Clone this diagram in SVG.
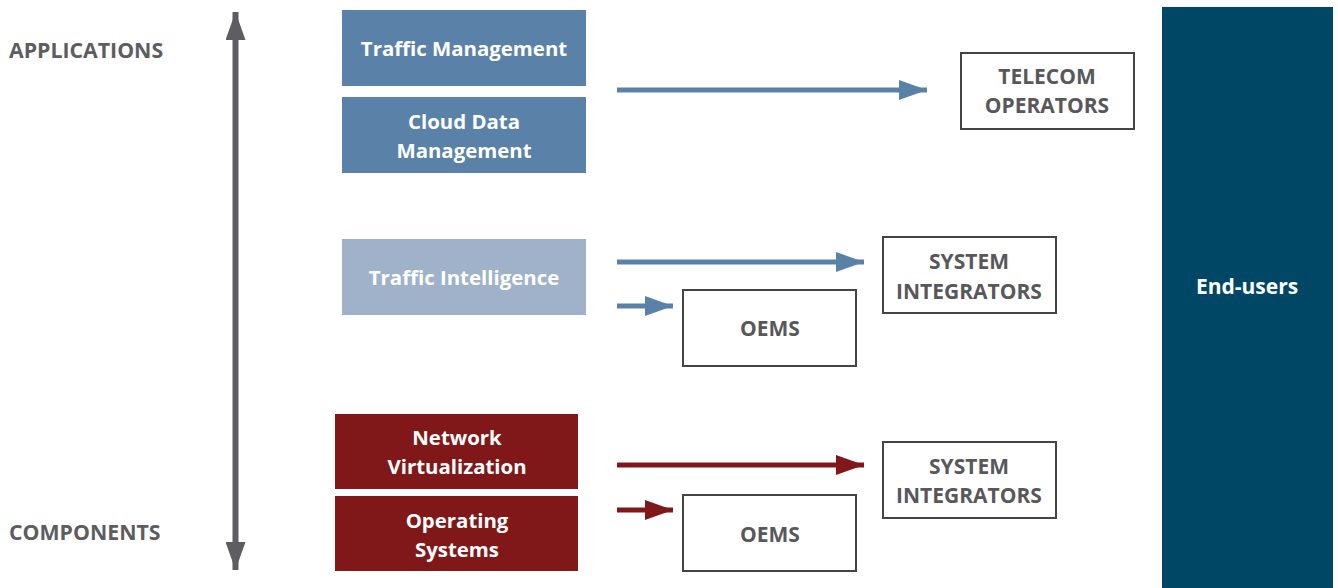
<svg xmlns="http://www.w3.org/2000/svg" width="1338" height="588" viewBox="0 0 1338 588">
<defs>
<style>
.t{font-family:"Open Sans","Liberation Sans",sans-serif;font-weight:700;font-size:20.4px;text-anchor:middle}
.w{fill:#ffffff}
.g{fill:#58585b;font-size:21px}
.side{font-family:"Open Sans","Liberation Sans",sans-serif;font-weight:700;font-size:21.3px;fill:#5d5d60}
.box{fill:#ffffff;stroke:#444446;stroke-width:2}
.bl{stroke:#5a82a8;stroke-width:5;fill:none}
.rd{stroke:#80181a;stroke-width:5;fill:none}
</style>
<marker id="hb" viewBox="0 0 28 20" refX="28" refY="10" markerUnits="userSpaceOnUse" markerWidth="28" markerHeight="20" orient="auto"><path d="M0,0L28,10L0,20Z" fill="#5a82a8"/></marker>
<marker id="hr" viewBox="0 0 28 20" refX="28" refY="10" markerUnits="userSpaceOnUse" markerWidth="28" markerHeight="20" orient="auto"><path d="M0,0L28,10L0,20Z" fill="#80181a"/></marker>
<marker id="hg" viewBox="0 0 28 20" refX="28" refY="10" markerUnits="userSpaceOnUse" markerWidth="28" markerHeight="20" orient="auto"><path d="M0,0L28,10L0,20Z" fill="#5e5e62"/></marker>
</defs>
<rect width="1338" height="588" fill="#ffffff"/>
<g id="labels">
<text class="side" x="9" y="58">APPLICATIONS</text>
<text class="side" x="9" y="540">COMPONENTS</text>
</g>
<g id="connectors">
<line x1="235.5" y1="290" x2="235.5" y2="12" stroke="#5e5e62" stroke-width="6" marker-end="url(#hg)"/>
<line x1="235.5" y1="290" x2="235.5" y2="570" stroke="#5e5e62" stroke-width="6" marker-end="url(#hg)"/>
<line class="bl" x1="617" y1="90" x2="927" y2="90" marker-end="url(#hb)"/>
<line class="bl" x1="617" y1="262" x2="864" y2="262" marker-end="url(#hb)"/>
<line class="bl" x1="617" y1="306" x2="673" y2="306" marker-end="url(#hb)"/>
<line class="rd" x1="617" y1="465" x2="864" y2="465" marker-end="url(#hr)"/>
<line class="rd" x1="617" y1="510" x2="673" y2="510" marker-end="url(#hr)"/>
</g>
<g id="traffic-management">
<rect x="342" y="10" width="244" height="76" fill="#5a82a8"/>
<text class="t w" x="464" y="56">Traffic Management</text>
</g>
<g id="cloud-data-management">
<rect x="342" y="97" width="244" height="76" fill="#5a82a8"/>
<text class="t w" x="464" y="129">Cloud Data</text>
<text class="t w" x="464" y="158">Management</text>
</g>
<g id="traffic-intelligence">
<rect x="342" y="239" width="244" height="76" fill="#9fb2ca"/>
<text class="t w" x="464" y="285">Traffic Intelligence</text>
</g>
<g id="network-virtualization">
<rect x="335" y="414" width="243" height="75" fill="#80181a"/>
<text class="t w" x="457" y="445">Network</text>
<text class="t w" x="457" y="474">Virtualization</text>
</g>
<g id="operating-systems">
<rect x="335" y="496" width="243" height="75" fill="#80181a"/>
<text class="t w" x="457" y="528">Operating</text>
<text class="t w" x="457" y="557">Systems</text>
</g>
<g id="telecom-operators">
<rect class="box" x="961" y="53" width="173" height="76"/>
<text class="t g" x="1047" y="84">TELECOM</text>
<text class="t g" x="1047" y="113">OPERATORS</text>
</g>
<g id="system-integrators-1">
<rect class="box" x="883" y="237" width="173" height="76"/>
<text class="t g" x="969" y="269">SYSTEM</text>
<text class="t g" x="969" y="299">INTEGRATORS</text>
</g>
<g id="oems-1">
<rect class="box" x="683" y="290" width="173" height="76"/>
<text class="t g" x="770" y="336">OEMS</text>
</g>
<g id="system-integrators-2">
<rect class="box" x="883" y="442" width="173" height="76"/>
<text class="t g" x="969" y="474">SYSTEM</text>
<text class="t g" x="969" y="503">INTEGRATORS</text>
</g>
<g id="oems-2">
<rect class="box" x="683" y="495" width="173" height="76"/>
<text class="t g" x="770" y="542">OEMS</text>
</g>
<g id="end-users">
<rect x="1162" y="7" width="171" height="581" fill="#004766"/>
<text class="t w" x="1247" y="294" style="font-size:21px">End-users</text>
</g>
</svg>
